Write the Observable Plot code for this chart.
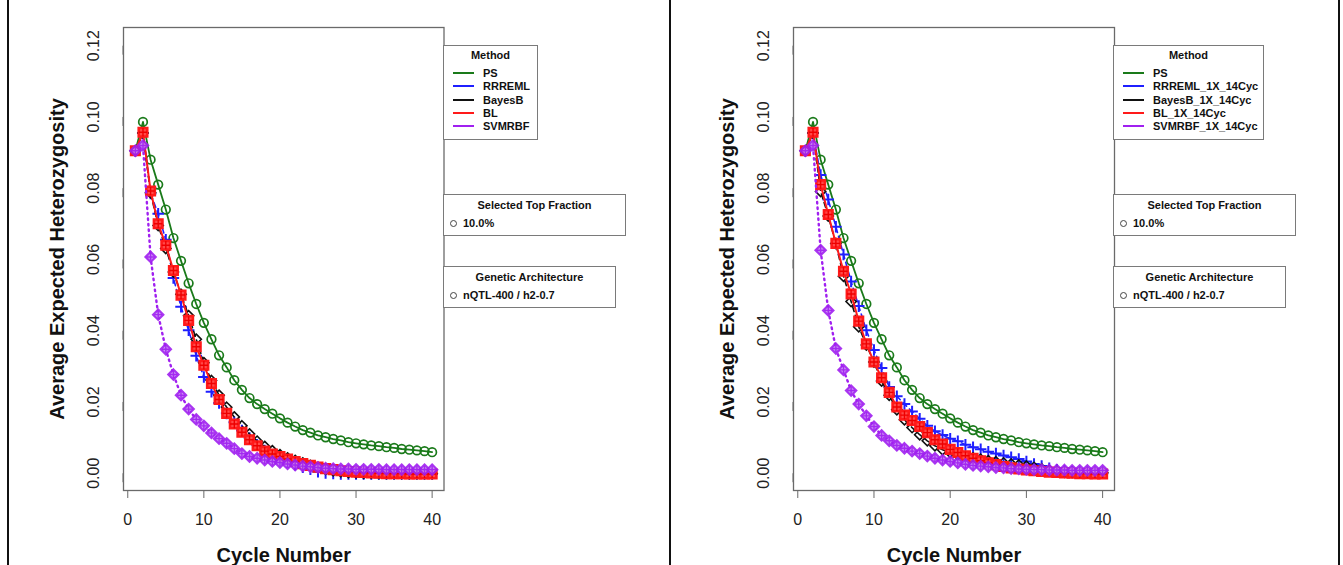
<!DOCTYPE html>
<html>
<head>
<meta charset="utf-8">
<script src="https://cdn.jsdelivr.net/npm/d3@7"></script>
<script src="https://cdn.jsdelivr.net/npm/@observablehq/plot@0.6"></script>
<style>
  body { margin: 0; background: #fff; font-family: "Liberation Sans", Arial, sans-serif; }
  #wrap { position: relative; width: 1343px; height: 565px; overflow: hidden; background: #fff; }
  .panel { position: absolute; top: 0; }
  .vline { position: absolute; top: 0; width: 2px; height: 565px; background: #111; z-index: 5; }
  .box { position: absolute; border: 1px solid #7a7a7a; background: #fff; box-sizing: border-box;
         font-weight: bold; font-size: 11px; color: #111; z-index: 4; }
  .ttl { position: absolute; left: 0; right: 0; text-align: center; line-height: 12px; }
  .row { position: absolute; line-height: 12px; white-space: nowrap; }
  .sw { position: absolute; height: 2px; width: 21px; }
  .circ { position: absolute; width: 5px; height: 5px; border: 1px solid #444; border-radius: 50%; }
</style>
</head>
<body>
<div id="wrap"></div>
<script>
// ---------------- data ----------------
const cycles = d3.range(1, 41);

const psVals = [0.0905,0.0986,0.0880,0.0810,0.0740,0.0660,0.0596,0.0533,0.0475,0.0422,
  0.0376,0.0331,0.0297,0.0261,0.0234,0.0211,0.0194,0.0180,0.0167,0.0154,
  0.0142,0.0131,0.0121,0.0114,0.0106,0.0101,0.0096,0.0092,0.0087,0.0084,
  0.0081,0.0078,0.0076,0.0073,0.0071,0.0068,0.0066,0.0064,0.0062,0.0059];

// left panel
const rrremlL = [0.0905,0.0955,0.0785,0.0728,0.0655,0.0548,0.0467,0.0401,0.0330,0.0270,
  0.0229,0.0197,0.0168,0.0143,0.0120,0.0099,0.0080,0.0064,0.0051,0.0040,
  0.0031,0.0024,0.0017,0.0011,0.0004,0.0001,-0.0001,-0.0002,-0.0002,-0.0002,
  -0.0002,-0.0002,-0.0002,-0.0002,-0.0002,-0.0002,-0.0002,-0.0002,-0.0002,-0.0002];
const bayesBL = [0.0905,0.0955,0.0787,0.0695,0.0631,0.0565,0.0502,0.0442,0.0376,0.0310,
  0.0260,0.0219,0.0185,0.0158,0.0133,0.0110,0.0090,0.0075,0.0063,0.0052,
  0.0043,0.0036,0.0029,0.0022,0.0016,0.0011,0.0007,0.0004,0.0002,0.0001,
  0.0000,0.0000,-0.0001,-0.0001,-0.0001,-0.0001,-0.0001,-0.0001,-0.0001,-0.0001];
const blL = [0.0905,0.0957,0.0792,0.0700,0.0640,0.0569,0.0500,0.0429,0.0355,0.0303,
  0.0252,0.0207,0.0168,0.0138,0.0115,0.0094,0.0077,0.0062,0.0054,0.0047,
  0.0040,0.0033,0.0027,0.0022,0.0017,0.0013,0.0010,0.0007,0.0005,0.0003,
  0.0002,0.0001,0.0000,-0.0001,-0.0001,-0.0001,-0.0002,-0.0002,-0.0002,-0.0002];
const svmL = [0.0905,0.0920,0.0607,0.0445,0.0348,0.0277,0.0219,0.0180,0.0151,0.0133,
  0.0113,0.0097,0.0084,0.0069,0.0055,0.0047,0.0042,0.0037,0.0033,0.0030,
  0.0026,0.0023,0.0020,0.0018,0.0016,0.0014,0.0013,0.0012,0.0012,0.0011,
  0.0011,0.0011,0.0011,0.0010,0.0010,0.0010,0.0010,0.0010,0.0010,0.0010];

// right panel
const rrremlR = [0.0905,0.0955,0.0837,0.0768,0.0692,0.0614,0.0538,0.0469,0.0401,0.0346,
  0.0295,0.0242,0.0216,0.0194,0.0173,0.0153,0.0133,0.0118,0.0107,0.0097,
  0.0090,0.0080,0.0073,0.0067,0.0060,0.0055,0.0050,0.0045,0.0040,0.0033,
  0.0026,0.0020,0.0014,0.0010,0.0006,0.0004,0.0002,0.0001,0.0000,0.0000];
const bayesBR = [0.0905,0.0955,0.0791,0.0722,0.0645,0.0553,0.0482,0.0411,0.0360,0.0312,
  0.0259,0.0219,0.0178,0.0150,0.0128,0.0108,0.0091,0.0077,0.0066,0.0058,
  0.0052,0.0047,0.0043,0.0039,0.0035,0.0032,0.0029,0.0026,0.0023,0.0020,
  0.0016,0.0012,0.0008,0.0005,0.0003,0.0002,0.0001,0.0001,0.0001,0.0001];
const blR = [0.0905,0.0957,0.0810,0.0726,0.0645,0.0567,0.0503,0.0427,0.0363,0.0312,
  0.0268,0.0227,0.0186,0.0163,0.0148,0.0131,0.0114,0.0094,0.0082,0.0067,
  0.0058,0.0049,0.0042,0.0035,0.0029,0.0024,0.0019,0.0015,0.0012,0.0009,
  0.0007,0.0005,0.0003,0.0002,0.0001,0.0000,-0.0001,-0.0001,-0.0002,-0.0002];
const svmR = [0.0905,0.0920,0.0626,0.0457,0.0350,0.0290,0.0232,0.0194,0.0161,0.0131,
  0.0106,0.0091,0.0078,0.0070,0.0062,0.0055,0.0048,0.0042,0.0037,0.0033,
  0.0029,0.0025,0.0022,0.0020,0.0018,0.0016,0.0015,0.0013,0.0012,0.0011,
  0.0010,0.0010,0.0009,0.0009,0.0009,0.0008,0.0008,0.0008,0.0008,0.0008];

const namesL = ["PS", "RRREML", "BayesB", "BL", "SVMRBF"];
const namesR = ["PS", "RRREML_1X_14Cyc", "BayesB_1X_14Cyc", "BL_1X_14Cyc", "SVMRBF_1X_14Cyc"];
const colors = ["#1a7a1a", "#1f1fff", "#111111", "#ff1a1a", "#a020f0"];
const xTicks = [0, 10, 20, 30, 40];
const yTicks = [0, 0.02, 0.04, 0.06, 0.08, 0.10, 0.12];
const fractionLabel = "10.0%";
const archLabel = "nQTL-400 / h2-0.7";

// ---------------- drawing ----------------
const wrap = document.getElementById("wrap");

function seriesMarks(vals, idx) {
  const data = cycles.map((c, i) => ({cycle: c, het: vals[i]}));
  const col = colors[idx];
  const o = {x: "cycle", y: "het"};
  const m = [];
  if (idx === 0) {
    m.push(Plot.line(data, {...o, stroke: col, strokeWidth: 1.8}));
    m.push(Plot.dot(data, {...o, symbol: "circle", r: 4.3, stroke: col, strokeWidth: 1.7, fill: "none"}));
  } else if (idx === 1) {
    m.push(Plot.line(data, {...o, stroke: col, strokeWidth: 1.6, strokeDasharray: "5,4"}));
    m.push(Plot.dot(data, {...o, symbol: "plus", r: 3.8, stroke: col, strokeWidth: 2}));
  } else if (idx === 2) {
    m.push(Plot.line(data, {...o, stroke: col, strokeWidth: 1.6, strokeDasharray: "5,4"}));
    m.push(Plot.dot(data, {...o, symbol: "diamond2", r: 4.6, stroke: col, strokeWidth: 1.6, fill: "none"}));
  } else if (idx === 3) {
    m.push(Plot.line(data, {...o, stroke: col, strokeWidth: 2}));
    m.push(Plot.dot(data, {...o, symbol: "square", r: 4.8, stroke: col, strokeWidth: 2.6, fill: "#ff4a4a"}));
    m.push(Plot.dot(data, {...o, symbol: "plus", r: 2.8, stroke: "#ee0000", strokeWidth: 1.4}));
  } else {
    m.push(Plot.line(data, {...o, stroke: col, strokeWidth: 2.4, strokeDasharray: "1.5,4", strokeLinecap: "round"}));
    m.push(Plot.dot(data, {...o, symbol: "diamond2", r: 4.6, stroke: col, strokeWidth: 2.2, fill: "#c98af5", opacity: 0.9}));
    m.push(Plot.dot(data, {...o, symbol: "plus", r: 2.6, stroke: col, strokeWidth: 1.4, opacity: 0.9}));
  }
  return m;
}

function makePanel(seriesList, width, marginRight) {
  const marks = [
    Plot.frame({stroke: "#6a6a6a", strokeWidth: 1.3}),
    Plot.axisX({ticks: xTicks, tickSize: 8, tickPadding: 15, fontSize: 16, label: null,
                stroke: "#6a6a6a", fill: "#222"}),
    Plot.axisY({ticks: yTicks, tickFormat: d => d.toFixed(2), tickSize: 9, tickPadding: 21,
                rotate: -90, textAnchor: "middle", fontSize: 16, label: null,
                stroke: "#6a6a6a", fill: "#222"}),
    Plot.text(["Average Expected Heterozygosity"], {text: d => d, frameAnchor: "left", dx: -66,
                rotate: -90, textAnchor: "middle", fontSize: 20, fontWeight: "bold", fill: "#111"}),
    Plot.text(["Cycle Number"], {text: d => d, frameAnchor: "bottom", dy: 71,
                textAnchor: "middle", fontSize: 20, fontWeight: "bold", fill: "#111"})
  ];
  seriesList.forEach((vals, i) => marks.push(...seriesMarks(vals, i)));
  return Plot.plot({
    width, height: 565,
    marginLeft: 123, marginRight, marginTop: 27, marginBottom: 75,
    x: {domain: [-0.56, 41.56]},
    y: {domain: [-0.00485, 0.1251]},
    style: {fontFamily: "Liberation Sans, Arial, sans-serif", background: "white"},
    marks
  });
}

function addLegends(offsetX, names, methodWidth, stfWidth, gaWidth) {
  const mb = document.createElement("div");
  mb.className = "box";
  Object.assign(mb.style, {left: (offsetX + 443) + "px", top: "45px", width: methodWidth + "px", height: "95px"});
  const t = document.createElement("div");
  t.className = "ttl"; t.style.top = "3px"; t.textContent = "Method";
  mb.appendChild(t);
  names.forEach((n, i) => {
    const y = 21 + i * 13.3;
    const sw = document.createElement("div");
    sw.className = "sw";
    Object.assign(sw.style, {left: "9px", top: (y + 5) + "px", background: colors[i]});
    mb.appendChild(sw);
    const r = document.createElement("div");
    r.className = "row";
    Object.assign(r.style, {left: "39px", top: y + "px"});
    r.textContent = n;
    mb.appendChild(r);
  });
  wrap.appendChild(mb);

  function small(top, width, title, label) {
    const b = document.createElement("div");
    b.className = "box";
    Object.assign(b.style, {left: (offsetX + 443) + "px", top: top + "px", width: width + "px", height: "42px"});
    const tt = document.createElement("div");
    tt.className = "ttl"; tt.style.top = "4px"; tt.textContent = title;
    b.appendChild(tt);
    const c = document.createElement("div");
    c.className = "circ";
    Object.assign(c.style, {left: "6px", top: "25px"});
    b.appendChild(c);
    const r = document.createElement("div");
    r.className = "row";
    Object.assign(r.style, {left: "19px", top: "22px"});
    r.textContent = label;
    b.appendChild(r);
    wrap.appendChild(b);
  }
  small(194, stfWidth, "Selected Top Fraction", fractionLabel);
  small(266, gaWidth, "Genetic Architecture", archLabel);
}

const left = makePanel([psVals, rrremlL, bayesBL, blL, svmL], 670, 226.5);
left.classList.add("panel"); left.style.left = "0px";
wrap.appendChild(left);

const right = makePanel([psVals, rrremlR, bayesBR, blR, svmR], 673, 229);
right.classList.add("panel"); right.style.left = "670px";
wrap.appendChild(right);

addLegends(0, namesL, 95, 183, 173);
addLegends(670, namesR, 151, 183, 173);

[7, 669, 1338].forEach(x => {
  const v = document.createElement("div");
  v.className = "vline"; v.style.left = x + "px";
  wrap.appendChild(v);
});
</script>
</body>
</html>
